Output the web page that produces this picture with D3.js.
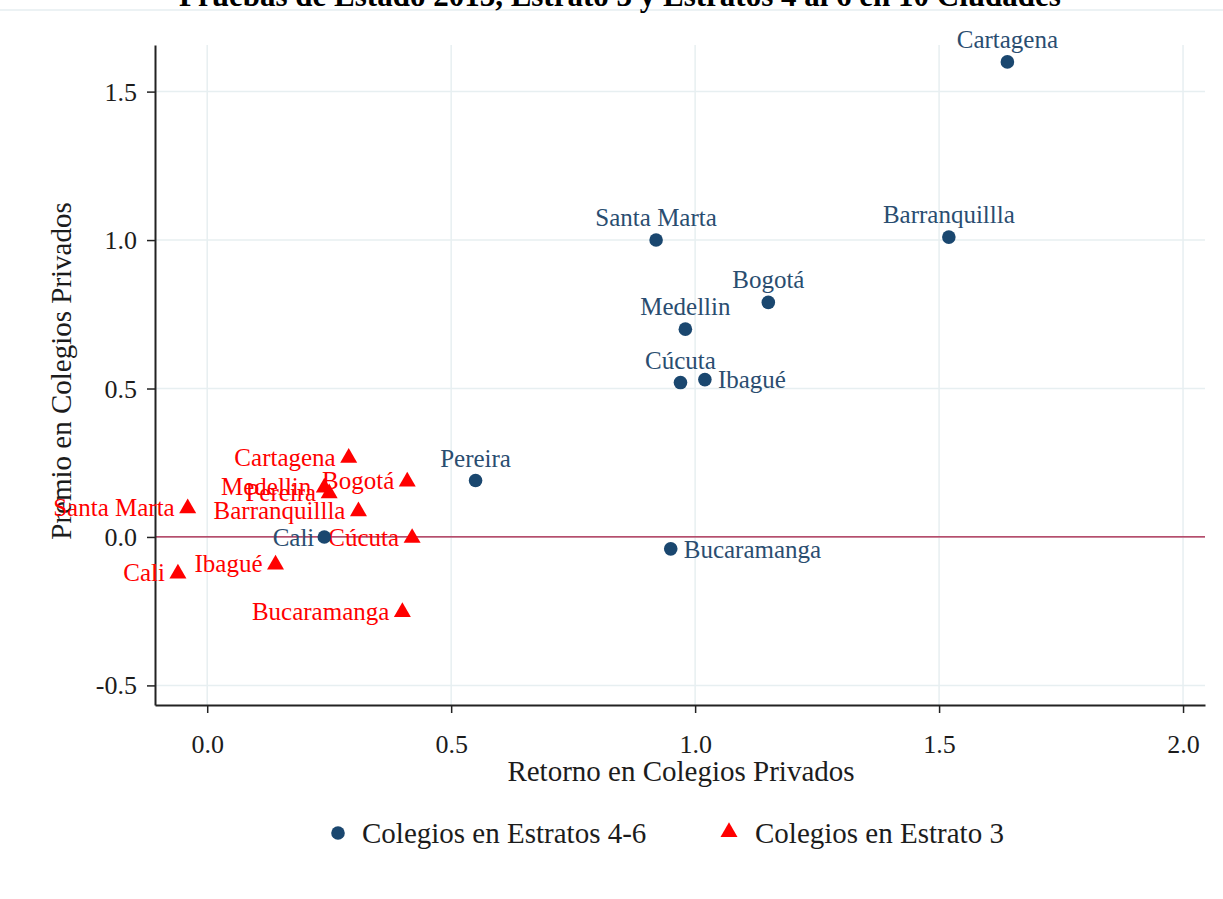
<!DOCTYPE html>
<html>
<head>
<meta charset="utf-8">
<script src="https://cdn.jsdelivr.net/npm/d3@7"></script>
<style>
  html, body { margin: 0; padding: 0; background: #ffffff; }
  svg { display: block; }
  text { font-family: "Liberation Serif", "Times New Roman", serif; }
</style>
</head>
<body>
<svg id="chart" width="1223" height="899"></svg>
<script>
// City names shared by both series
const cities = ["Cartagena", "Barranquillla", "Santa Marta", "Bogotá", "Medellin",
                "Cúcuta", "Ibagué", "Pereira", "Cali", "Bucaramanga"];

// Schools in strata 4-6: return (x) and premium (y)
const retornoAlto = [1.64, 1.52, 0.92, 1.15, 0.98, 0.97, 1.02, 0.55, 0.24, 0.95];
const premioAlto  = [1.60, 1.01, 1.00, 0.79, 0.70, 0.52, 0.53, 0.19, 0.00, -0.04];

// Schools in stratum 3
const retornoE3 = [0.29, 0.31, -0.04, 0.41, 0.24, 0.42, 0.14, 0.25, -0.06, 0.40];
const premioE3  = [0.27, 0.09, 0.10, 0.19, 0.17, 0.00, -0.09, 0.15, -0.12, -0.25];

// Label placement (clock position) for the strata 4-6 markers
const labelPosAlto = [12, 12, 12, 12, 12, 12, 3, 12, 9, 3];

const xTicks = [0.0, 0.5, 1.0, 1.5, 2.0];
const yTicks = [-0.5, 0.0, 0.5, 1.0, 1.5];

const titleText = "Pruebas de Estado 2013, Estrato 3 y Estratos 4 al 6 en 10 Ciudades";
const xTitle = "Retorno en Colegios Privados";
const yTitle = "Premio en Colegios Privados";
const legendLabels = ["Colegios en Estratos 4-6", "Colegios en Estrato 3"];

const navy = "#1a476f";
const red = "#ff0000";

const svg = d3.select("#chart");
const plot = { left: 155, right: 1205, top: 45, bottom: 705 };

const x = d3.scaleLinear().domain([-0.107, 2.045]).range([plot.left, plot.right]);
const y = d3.scaleLinear().domain([-0.566, 1.657]).range([plot.bottom, plot.top]);

// tick format with a plain hyphen for negatives
const fmt = d => d3.format(".1f")(d).replace("\u2212", "-");

// outer frame line and title (title sits partly above the canvas)
svg.append("line").attr("x1", 0).attr("x2", 1223).attr("y1", 10).attr("y2", 10)
  .attr("stroke", "#e6eef0").attr("stroke-width", 1.5);
svg.append("text").attr("x", 620).attr("y", 6).attr("text-anchor", "middle")
  .attr("font-weight", "bold").attr("font-size", 31).attr("fill", "#000")
  .text(titleText);

// grid
const grid = svg.append("g");
grid.selectAll("line.gx").data(xTicks).join("line")
  .attr("x1", d => x(d)).attr("x2", d => x(d))
  .attr("y1", plot.top).attr("y2", plot.bottom)
  .attr("stroke", "#e7eff1").attr("stroke-width", 1.5);
grid.selectAll("line.gy").data(yTicks).join("line")
  .attr("x1", plot.left).attr("x2", plot.right)
  .attr("y1", d => y(d)).attr("y2", d => y(d))
  .attr("stroke", "#e7eff1").attr("stroke-width", 1.5);

// zero reference line
svg.append("line")
  .attr("x1", plot.left).attr("x2", plot.right)
  .attr("y1", y(0)).attr("y2", y(0))
  .attr("stroke", "#a3163f").attr("stroke-width", 1.3);

// axes
const xAxis = d3.axisBottom(x).tickValues(xTicks).tickFormat(fmt)
  .tickSize(8).tickSizeOuter(0).tickPadding(22);
const yAxis = d3.axisLeft(y).tickValues(yTicks).tickFormat(fmt)
  .tickSize(8).tickSizeOuter(0).tickPadding(10);

const gx = svg.append("g").attr("transform", `translate(0,${plot.bottom})`).call(xAxis);
const gy = svg.append("g").attr("transform", `translate(${plot.left},0)`).call(yAxis);
[gx, gy].forEach(g => {
  g.select(".domain").attr("stroke", "#222").attr("stroke-width", 2);
  g.selectAll(".tick line").attr("stroke", "#222").attr("stroke-width", 1.5);
  g.selectAll(".tick text").attr("font-family", "Liberation Serif")
    .attr("font-size", 26).attr("fill", "#1c1c1c");
});
gy.selectAll(".tick text").attr("dy", "0.33em");

// axis titles
svg.append("text").attr("x", 681).attr("y", 781)
  .attr("text-anchor", "middle").attr("font-size", 29).attr("fill", "#1c1c1c")
  .text(xTitle);
svg.append("text")
  .attr("transform", `translate(71,371) rotate(-90)`)
  .attr("text-anchor", "middle").attr("font-size", 29).attr("fill", "#1c1c1c")
  .text(yTitle);

const tri = d3.symbol().type(d3.symbolTriangle).size(125);

// stratum 3 markers and labels (labels to the left)
const gE3 = svg.append("g");
const e3 = cities.map((c, i) => ({ c, rx: retornoE3[i], py: premioE3[i] }));
gE3.selectAll("path").data(e3).join("path")
  .attr("d", tri)
  .attr("transform", d => `translate(${x(d.rx)},${y(d.py) + 1})`)
  .attr("fill", red);
gE3.selectAll("text").data(e3).join("text")
  .attr("x", d => x(d.rx) - 13).attr("y", d => y(d.py))
  .attr("dy", "0.35em").attr("text-anchor", "end")
  .attr("font-size", 25).attr("fill", red)
  .text(d => d.c);

// strata 4-6 markers and labels
const gA = svg.append("g");
const alto = cities.map((c, i) => ({ c, rx: retornoAlto[i], py: premioAlto[i], pos: labelPosAlto[i] }));
gA.selectAll("circle").data(alto).join("circle")
  .attr("cx", d => x(d.rx)).attr("cy", d => y(d.py)).attr("r", 6.8)
  .attr("fill", navy);
gA.selectAll("text").data(alto).join("text")
  .attr("x", d => d.pos === 12 ? x(d.rx) : d.pos === 3 ? x(d.rx) + 13 : x(d.rx) - 10)
  .attr("y", d => d.pos === 12 ? y(d.py) - 14 : y(d.py))
  .attr("dy", d => d.pos === 12 ? 0 : "0.35em")
  .attr("text-anchor", d => d.pos === 12 ? "middle" : d.pos === 3 ? "start" : "end")
  .attr("font-size", 25).attr("fill", "#2a4d70")
  .text(d => d.c);

// legend
const lg = svg.append("g");
lg.append("circle").attr("cx", 338).attr("cy", 833).attr("r", 6.8).attr("fill", navy);
lg.append("text").attr("x", 362).attr("y", 833).attr("dy", "0.35em")
  .attr("font-size", 29).attr("fill", "#1c1c1c").text(legendLabels[0]);
lg.append("path").attr("d", tri).attr("transform", "translate(729,832)").attr("fill", red);
lg.append("text").attr("x", 755).attr("y", 833).attr("dy", "0.35em")
  .attr("font-size", 29).attr("fill", "#1c1c1c").text(legendLabels[1]);
</script>
</body>
</html>
